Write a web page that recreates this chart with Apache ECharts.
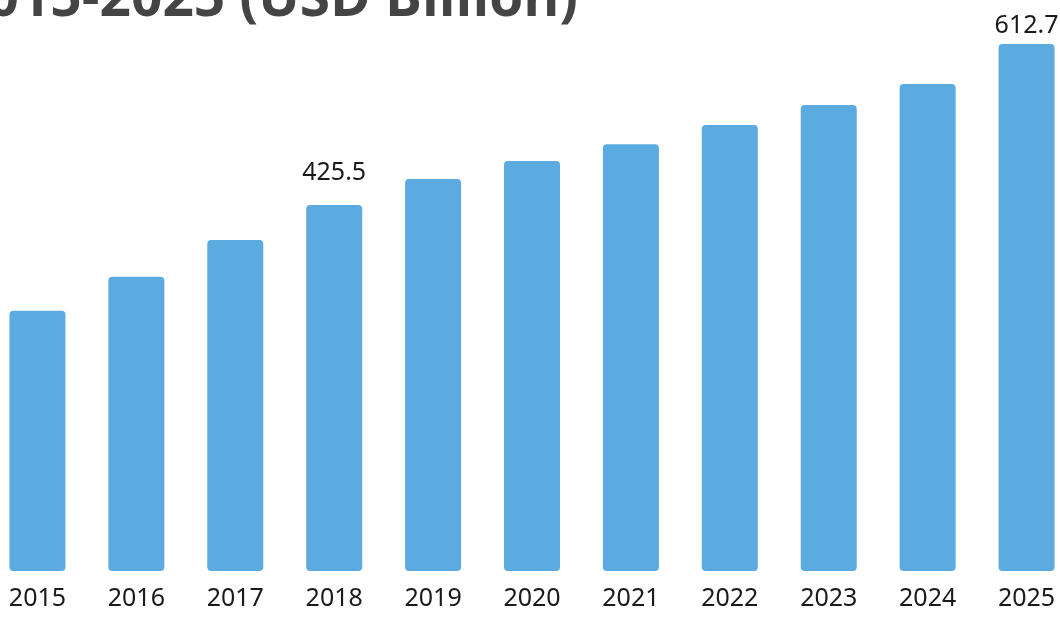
<!DOCTYPE html>
<html>
<head>
<meta charset="utf-8">
<style>
  html, body { margin: 0; padding: 0; background: #ffffff; overflow: hidden; }
  #wrap { width: 1060px; height: 619px; overflow: hidden; position: relative; }
  /* the plot runs a little past both edges of the page */
  #chart { width: 1088px; height: 619px; position: absolute; left: -12px; top: 0; }
</style>
<script src="https://cdn.jsdelivr.net/npm/echarts@6/dist/echarts.min.js"></script>
</head>
<body>
<div id="wrap"><div id="chart"></div></div>
<script>
// Market size by year, USD billion
const years = ['2015', '2016', '2017', '2018', '2019', '2020', '2021', '2022', '2023', '2024', '2025'];
const marketSize = [302.7, 342.2, 384.9, 425.5, 455.8, 476.7, 496.2, 518.6, 541.9, 566.3, 612.7];
// Years whose value is printed above the bar
const labelledYears = ['2018', '2025'];
const titleText = 'Market Size, 2015-2025 (USD Billion)';

const labelFont = "'Noto Sans', sans-serif";
const labelGap = { '2018': 20, '2025': 6 };

const barData = marketSize.map((v, i) => {
  const y = years[i];
  if (!labelledYears.includes(y)) return v;
  return {
    value: v,
    label: {
      show: true,
      position: 'top',
      distance: labelGap[y],
      color: '#1a1a1a',
      fontFamily: labelFont,
      fontSize: 25,
      formatter: p => p.value.toFixed(1)
    }
  };
});

const chart = echarts.init(document.getElementById('chart'), null, { renderer: 'canvas' });
chart.setOption({
  animation: false,
  backgroundColor: '#ffffff',
  graphic: [{
    type: 'text',
    style: {
      text: titleText,
      x: 590,
      y: 28,
      align: 'right',
      verticalAlign: 'bottom',
      fill: '#444444',
      font: "bold 55px 'Open Sans', sans-serif"
    }
  }],
  grid: { left: 0, right: 0, top: 12, bottom: 48, containLabel: false },
  xAxis: {
    type: 'category',
    data: years,
    axisLine: { show: false },
    axisTick: { show: false },
    axisLabel: {
      color: '#1a1a1a',
      fontFamily: labelFont,
      fontSize: 25,
      margin: 15
    }
  },
  yAxis: {
    type: 'value',
    min: 0,
    max: 650,
    show: false,
    splitLine: { show: false }
  },
  series: [{
    type: 'bar',
    data: barData,
    barWidth: 56,
    itemStyle: { color: '#5BABE0', borderRadius: 4 }
  }]
});
</script>
</body>
</html>
